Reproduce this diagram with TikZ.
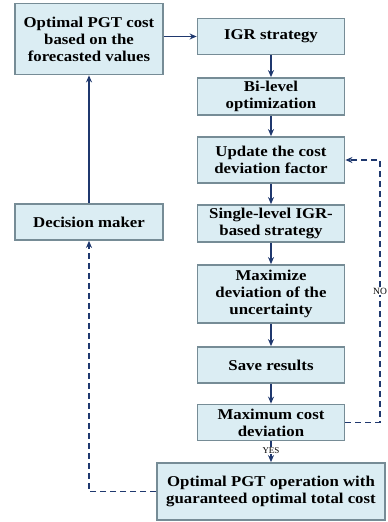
\documentclass[tikz,border=0pt]{standalone}
\usepackage{fontspec}
\setmainfont{Liberation Serif}
\newfontfamily\boxfont[FakeStretch=1.12]{Liberation Serif}
\usetikzlibrary{arrows.meta}
\definecolor{boxfill}{RGB}{219,237,243}
\definecolor{boxedge}{RGB}{118,140,150}
\definecolor{navy}{RGB}{31,56,110}
\begin{document}
\begin{tikzpicture}[x=1pt,y=-1pt,
  box/.style={draw=boxedge, line width=1.8pt, fill=boxfill, align=center,
    inner sep=0pt, font=\boxfont\fontsize{15}{17}\selectfont\bfseries},
  conn/.style={draw=navy, line width=1.2pt, -{Stealth[length=7pt,width=6pt]}},
  dconn/.style={conn, dash pattern=on 6pt off 4pt},
  lbl/.style={font=\fontsize{9}{10}\selectfont, fill=white, inner sep=0.5pt}]
\useasboundingbox (0,0) rectangle (388,522);
\node[box, minimum width=148pt, minimum height=71pt] (opt) at (89,39) {Optimal PGT cost\\based on the\\forecasted values};
\node[box, minimum width=148pt, minimum height=36pt] (dm) at (89,222) {Decision maker};
\node[box, minimum width=147pt, minimum height=36pt] (igr) at (271,36.5) {IGR strategy};
\node[box, minimum width=147pt, minimum height=37pt] (bi) at (271,96.5) {Bi-level\\optimization};
\node[box, minimum width=147pt, minimum height=46pt] (upd) at (271,160) {Update the cost\\deviation factor};
\node[box, minimum width=147pt, minimum height=37pt] (sl) at (271,223.5) {Single-level IGR-\\based strategy};
\node[box, minimum width=147pt, minimum height=58pt] (mx) at (271,294) {Maximize\\deviation of the\\uncertainty};
\node[box, minimum width=147pt, minimum height=36pt] (sv) at (271,365) {Save results};
\node[box, minimum width=147pt, minimum height=36pt] (mc) at (271,422.5) {Maximum cost\\deviation};
\node[box, minimum width=228pt, minimum height=57pt] (fin) at (271,491.5) {Optimal PGT operation with\\guaranteed optimal total cost};
\draw[conn] (opt.east |- igr.west) -- (igr.west);
\draw[conn] (dm.north) -- (opt.south);
\draw[conn] (igr) -- (bi);
\draw[conn] (bi) -- (upd);
\draw[conn] (upd) -- (sl);
\draw[conn] (sl) -- (mx);
\draw[conn] (mx) -- (sv);
\draw[conn] (sv) -- (mc);
\draw[conn] (mc) -- node[lbl, pos=0.45]{YES} (fin);
\coordinate (nr) at (380,0);
\draw[dconn] (mc.east) -- (nr |- mc.east) -- node[lbl, pos=0.5, font=\fontsize{9.5}{10}\selectfont]{NO} (nr |- upd.east) -- (upd.east);
\draw[dconn] (fin.west) -| (dm.south);
\end{tikzpicture}
\end{document}
